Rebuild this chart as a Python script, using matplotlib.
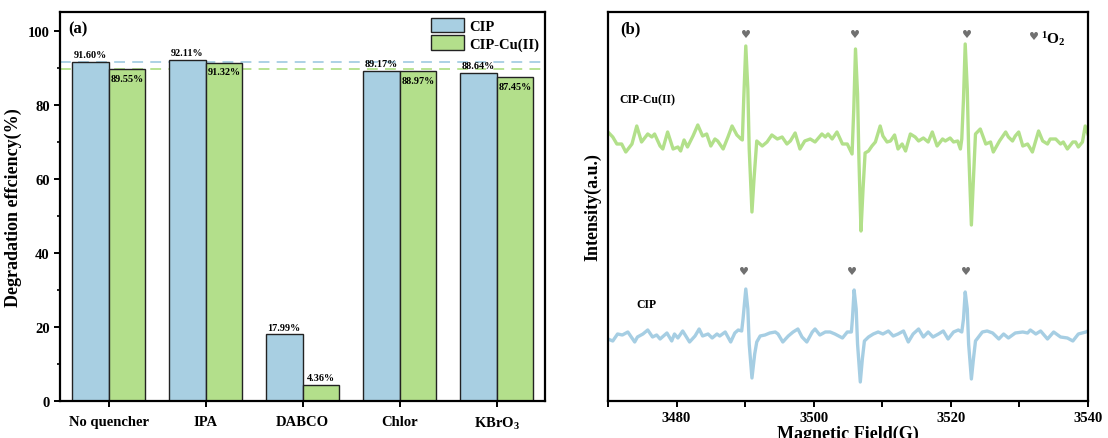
import numpy as np
import matplotlib.pyplot as plt
from matplotlib.ticker import MultipleLocator

plt.rcParams['font.family'] = 'Liberation Serif'
plt.rcParams['font.weight'] = 'bold'
plt.rcParams['axes.labelweight'] = 'bold'
plt.rcParams['mathtext.fontset'] = 'custom'
plt.rcParams['mathtext.rm'] = 'Liberation Serif:bold'
plt.rcParams['mathtext.it'] = 'Liberation Serif:bold'
plt.rcParams['mathtext.bf'] = 'Liberation Serif:bold'
plt.rcParams['axes.linewidth'] = 1.6

# (a) quenching experiments
quenchers = ['No quencher', 'IPA', 'DABCO', 'Chlor', r'KBrO$_3$']
cip = [91.60, 92.11, 17.99, 89.17, 88.64]
cip_cu = [89.55, 91.32, 4.36, 88.97, 87.45]

# (b) EPR spectra (TEMP, 1O2)
field_cu = [3470.0, 3470.7, 3471.3, 3472.0, 3472.6, 3473.5, 3474.2, 3474.9, 3475.8, 3476.4,
            3476.8, 3477.6, 3478.0, 3478.7, 3479.5, 3480.2, 3480.6, 3481.1, 3481.6, 3482.4,
            3483.1, 3483.8, 3484.4, 3485.0, 3485.6, 3486.0, 3486.8, 3487.5, 3488.1, 3488.8,
            3489.4, 3489.6, 3489.8, 3490.1, 3490.4, 3490.6, 3491.0, 3491.3, 3491.7, 3492.5,
            3493.2, 3493.9, 3494.7, 3495.4, 3496.1, 3496.6, 3497.3, 3498.0, 3498.7, 3499.5,
            3500.2, 3501.2, 3501.7, 3502.1, 3502.7, 3503.4, 3504.2, 3504.9, 3505.6, 3505.85,
            3506.1, 3506.4, 3506.6, 3506.9, 3507.2, 3507.5, 3508.0, 3508.5, 3509.0, 3509.7,
            3510.1, 3510.7, 3511.2, 3511.8, 3512.3, 3512.9, 3513.4, 3514.1, 3514.8, 3515.3,
            3516.0, 3516.7, 3517.3, 3518.0, 3518.8, 3519.2, 3519.9, 3520.4, 3521.0, 3521.4,
            3521.6, 3521.85, 3522.1, 3522.4, 3522.6, 3523.0, 3523.3, 3523.6, 3524.3, 3525.1,
            3525.8, 3526.2, 3527.1, 3528.0, 3528.4, 3529.0, 3529.4, 3529.9, 3530.5, 3531.2,
            3531.9, 3532.8, 3533.4, 3534.1, 3534.5, 3535.3, 3536.0, 3536.4, 3537.0, 3537.8,
            3538.2, 3538.6, 3539.2, 3539.6, 3540.0]
int_cu = [269, 264, 257, 257, 249, 257, 275, 259, 267, 264,
          267, 255, 252, 269, 252, 254, 250, 261, 254, 265,
          276, 265, 267, 255, 262, 260, 252, 264, 275, 266,
          262, 261, 302, 355, 312, 252, 189, 222, 260, 255,
          259, 266, 262, 264, 257, 260, 268, 252, 260, 262,
          259, 267, 264, 267, 262, 269, 257, 257, 247, 292,
          352, 307, 242, 170, 212, 248, 250, 255, 259, 275,
          265, 259, 260, 266, 252, 257, 250, 267, 264, 260,
          263, 259, 269, 255, 262, 260, 263, 259, 260, 252,
          262, 302, 357, 312, 252, 176, 222, 267, 272, 257,
          259, 249, 260, 269, 264, 260, 265, 269, 255, 257,
          249, 270, 260, 257, 262, 262, 257, 259, 252, 259,
          259, 254, 259, 275, 267]

field_cip = [3470.0, 3470.7, 3471.4, 3472.1, 3472.9, 3473.9, 3474.3, 3475.1, 3475.8, 3476.5,
             3477.1, 3477.6, 3478.6, 3479.3, 3479.7, 3480.2, 3480.9, 3481.9, 3482.7, 3483.3,
             3483.8, 3484.6, 3485.2, 3485.9, 3486.3, 3487.1, 3487.9, 3488.5, 3489.0, 3489.5,
             3489.7, 3490.1, 3490.4, 3490.6, 3491.0, 3491.4, 3491.7, 3492.2, 3492.9, 3493.6,
             3494.4, 3494.8, 3495.5, 3496.3, 3497.0, 3497.7, 3498.3, 3499.0, 3499.8, 3500.2,
             3500.9, 3501.7, 3502.4, 3503.1, 3504.2, 3504.9, 3505.5, 3505.65, 3505.9, 3506.2,
             3506.4, 3506.8, 3507.1, 3507.4, 3508.0, 3508.7, 3509.4, 3510.1, 3510.9, 3511.6,
             3512.3, 3513.1, 3513.8, 3514.5, 3515.3, 3516.0, 3516.7, 3517.4, 3518.2, 3518.9,
             3519.6, 3520.4, 3521.1, 3521.6, 3521.85, 3522.1, 3522.4, 3522.6, 3523.0, 3523.3,
             3523.6, 3524.6, 3525.3, 3526.1, 3527.0, 3527.7, 3528.4, 3529.4, 3530.5, 3531.2,
             3531.6, 3532.4, 3533.1, 3534.1, 3535.0, 3536.0, 3537.0, 3537.8, 3538.6, 3539.7,
             3540.0]
int_cip = [62, 60, 67, 66, 69, 59, 64, 67, 71, 64,
           66, 62, 68, 60, 67, 63, 70, 59, 65, 72,
           65, 67, 63, 67, 65, 69, 59, 68, 71, 70,
           82, 112, 92, 57, 23, 47, 59, 65, 66, 68,
           69, 67, 59, 65, 69, 72, 64, 59, 69, 72,
           66, 69, 69, 67, 63, 69, 69, 82, 111, 92,
           57, 19, 42, 60, 64, 67, 69, 67, 70, 65,
           67, 70, 59, 67, 72, 64, 69, 64, 67, 70,
           62, 69, 71, 69, 82, 109, 92, 57, 22, 42,
           60, 69, 70, 68, 62, 67, 63, 68, 69, 68,
           71, 67, 70, 62, 69, 64, 63, 60, 67, 69,
           70]

heart_cu = [3490.1, 3506.0, 3522.4]
heart_cip = [3489.8, 3505.6, 3522.2]

blue = '#a8cfe2'
green = '#b3df8b'
line_blue = '#a6cee3'
line_green = '#b2e08a'

fig = plt.figure(figsize=(11.08, 4.39), dpi=100)
ax1 = fig.add_axes([0.0542, 0.0843, 0.4377, 0.8861])
ax2 = fig.add_axes([0.5487, 0.0843, 0.4332, 0.8861])

# ---- (a) ----
x = np.arange(len(quenchers))
w = 0.38
ax1.axhline(cip[0], color=line_blue, ls=(0, (6, 4)), lw=1.3, zorder=1)
ax1.axhline(cip_cu[0], color=line_green, ls=(0, (6, 4)), lw=1.3, zorder=1)
b1 = ax1.bar(x - w / 2, cip, w, color=blue, edgecolor='#222222', lw=1.0, label='CIP', zorder=2)
b2 = ax1.bar(x + w / 2, cip_cu, w, color=green, edgecolor='#222222', lw=1.0, label='CIP-Cu(II)', zorder=2)

for xi, v in zip(x, cip):
    ax1.text(xi - w / 2, v + 0.7, '%.2f%%' % v, ha='center', va='bottom', fontsize=7.3, zorder=3)
for xi, v in zip(x, cip_cu):
    if v > 50:
        ax1.text(xi + w / 2, v - 1.3, '%.2f%%' % v, ha='center', va='top', fontsize=7.3, zorder=3)
    else:
        ax1.text(xi + w / 2, v + 0.7, '%.2f%%' % v, ha='center', va='bottom', fontsize=7.3, zorder=3)

ax1.set_xlim(-0.5, 4.5)
ax1.set_ylim(0, 105)
ax1.set_xticks(x)
ax1.set_xticklabels(quenchers, fontsize=10.5)
ax1.yaxis.set_major_locator(MultipleLocator(20))
ax1.yaxis.set_minor_locator(MultipleLocator(10))
ax1.tick_params(axis='y', labelsize=10.5, width=1.4, length=4)
ax1.tick_params(axis='y', which='minor', width=1.2, length=2.5)
ax1.tick_params(axis='x', width=1.4, length=4, pad=6)
ax1.set_ylabel('Degradation effciency(%)', fontsize=13, labelpad=4)
ax1.text(0.0165, 0.957, '(a)', transform=ax1.transAxes, fontsize=12, va='center')
ax1.legend(loc='upper right', bbox_to_anchor=(1.0, 1.0), frameon=False, fontsize=10.5,
           handlelength=2.3, handleheight=1.15, labelspacing=0.15, handletextpad=0.35,
           borderaxespad=0.2, borderpad=0.2)

# ---- (b) ----
ax2.plot(field_cu, int_cu, color=line_green, lw=2.4)
ax2.plot(field_cip, int_cip, color=line_blue, lw=2.4)
for f in heart_cu:
    ax2.text(f, 367, '\u2665', family=['DejaVu Sans'], color='#707070', fontsize=8, ha='center', va='center')
for f in heart_cip:
    ax2.text(f, 130, '\u2665', family=['DejaVu Sans'], color='#707070', fontsize=8, ha='center', va='center')
ax2.text(0.8875, 0.938, '\u2665', family=['DejaVu Sans'], color='#707070', fontsize=8,
         ha='center', va='center', transform=ax2.transAxes)
ax2.text(0.902, 0.934, r'$^1$O$_2$', fontsize=11, ha='left', va='center', transform=ax2.transAxes)
ax2.text(3471.6, 302, 'CIP-Cu(II)', fontsize=8.5, ha='left', va='center')
ax2.text(3474.2, 97, 'CIP', fontsize=8.5, ha='left', va='center')
ax2.text(0.025, 0.957, '(b)', transform=ax2.transAxes, fontsize=12, va='center')

ax2.set_xlim(3470, 3540)
ax2.set_ylim(0, 389)
ax2.set_yticks([])
ax2.set_xticks([3480, 3500, 3520, 3540])
ax2.xaxis.set_minor_locator(MultipleLocator(10))
ax2.tick_params(axis='x', which='both', width=1.4, length=4, labelsize=10.5)
ax2.set_xlabel('Magnetic Field(G)', fontsize=13, labelpad=0)
ax2.set_ylabel('Intensity(a.u.)', fontsize=13, labelpad=5)

fig.savefig('out.png', dpi=100)
